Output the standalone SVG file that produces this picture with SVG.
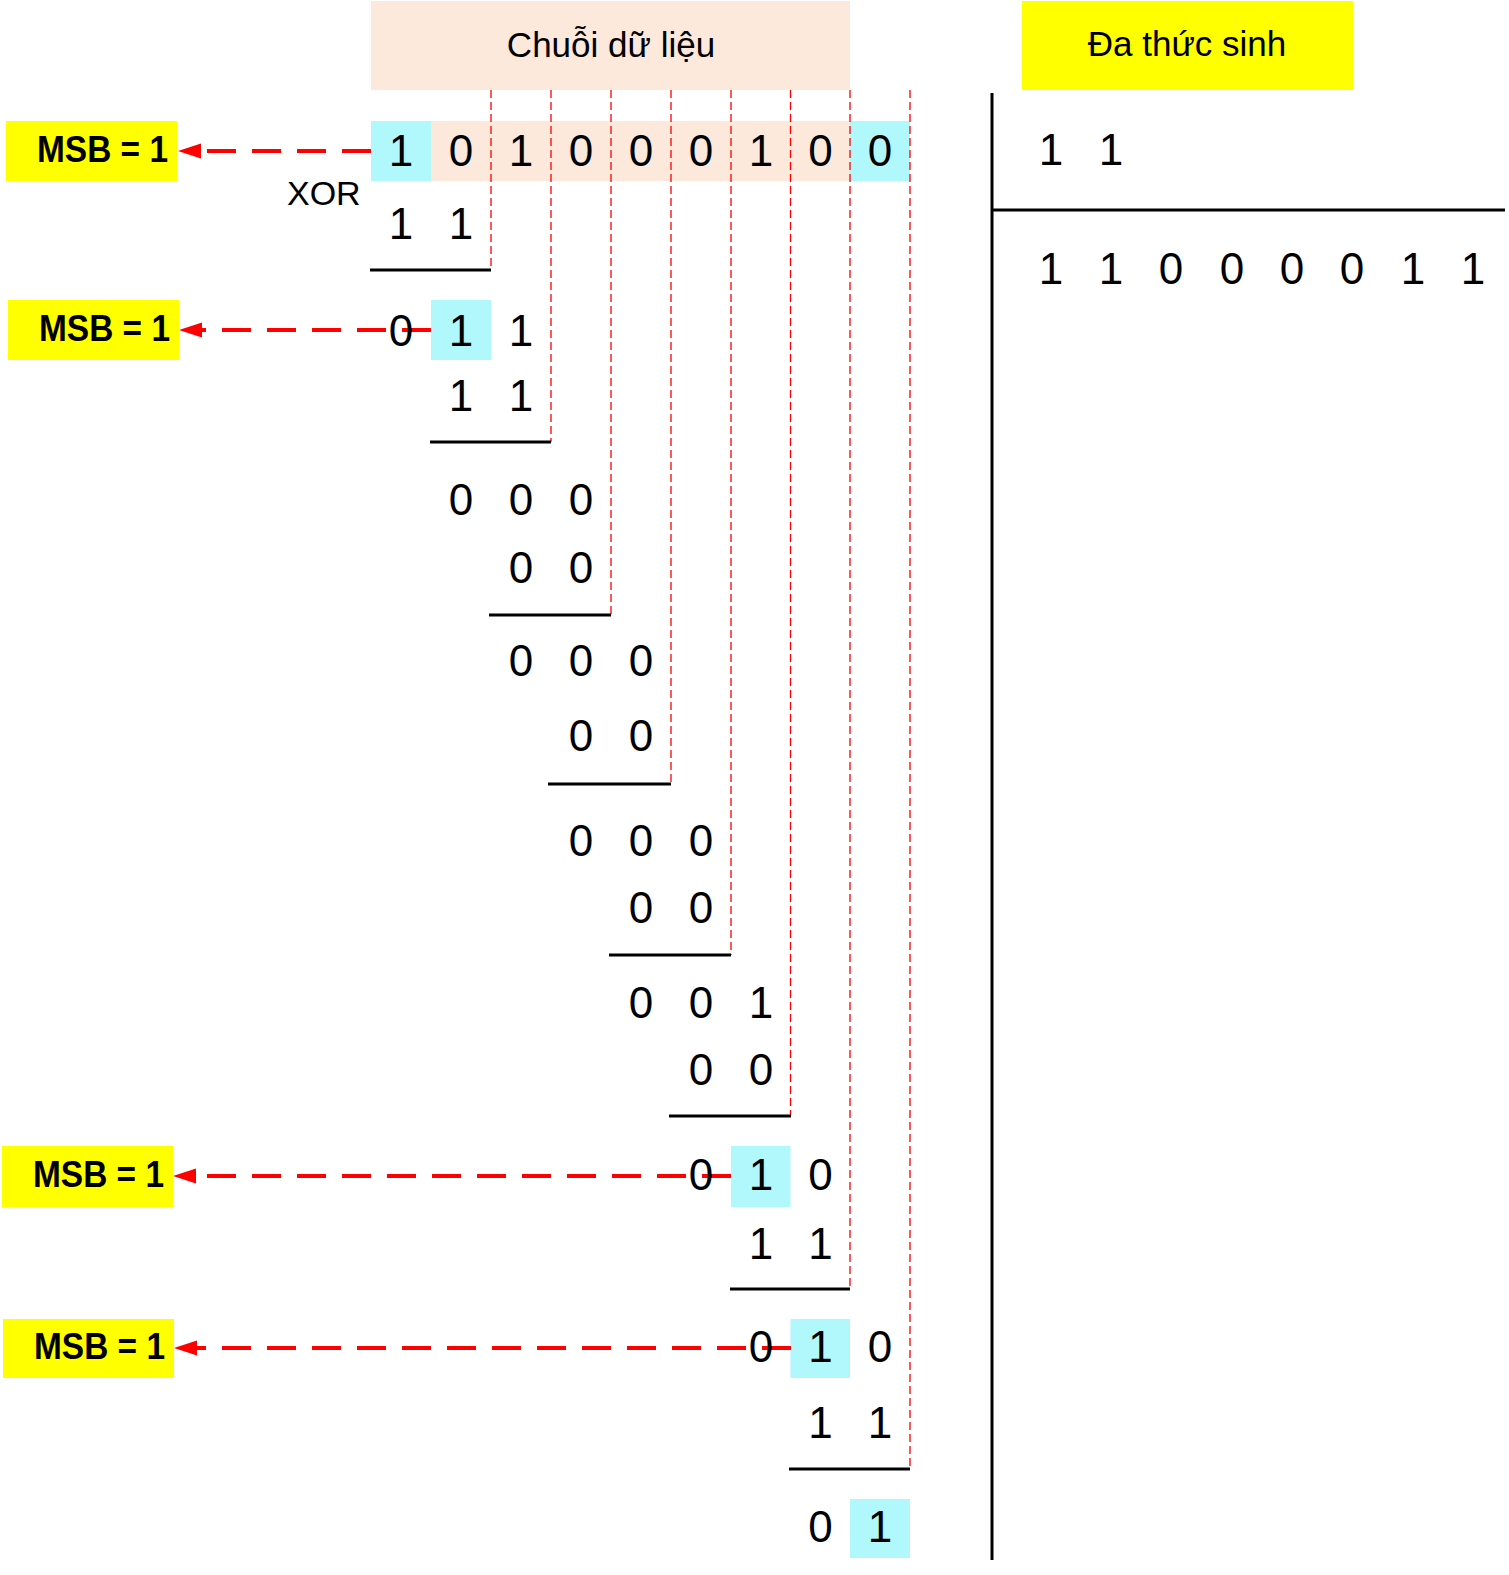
<svg xmlns="http://www.w3.org/2000/svg" width="1509" height="1575" viewBox="0 0 1509 1575">
<defs>
<style>
.bg{fill:#ffffff}
.peach{fill:#FCE9DC}
.cyan{fill:#B0F8FB}
.yellow{fill:#FFFF00}
.d{font-family:"Liberation Sans",Arial,sans-serif;font-size:44px;fill:#000;text-anchor:middle}
.title{font-family:"Liberation Sans",Arial,"Noto Sans",sans-serif;font-size:35px;fill:#000;text-anchor:middle}
.msb{font-family:"Liberation Sans",Arial,sans-serif;font-size:36px;font-weight:bold;fill:#000;text-anchor:end}
.xor{font-family:"Liberation Sans",Arial,sans-serif;font-size:34px;fill:#000}
.vd{stroke:#FF0000;stroke-width:1.3;stroke-dasharray:8 4;fill:none}
.ul{stroke:#000;stroke-width:3;fill:none}
.arr{stroke:#FF0000;stroke-width:4;stroke-dasharray:29 16;fill:none}
.axis{stroke:#000;stroke-width:3;fill:none}
</style>
<marker id="ah" markerUnits="userSpaceOnUse" markerWidth="24" markerHeight="16" refX="0" refY="7.5" orient="auto">
<path d="M0,0 L23,7.5 L0,15 Z" fill="#FF0000"/>
</marker>
</defs>
<rect class="bg" x="0" y="0" width="1509" height="1575"/>

<g id="header-data">
<rect class="peach" x="371" y="1" width="479" height="89"/>
<text class="title" x="611" y="57">Chuỗi dữ liệu</text>
</g>

<g id="header-poly">
<rect class="yellow" x="1022" y="1" width="331" height="89"/>
<text class="title" x="1187" y="56">Đa thức sinh</text>
</g>

<g id="cells">
<rect class="peach" x="431" y="121" width="419" height="60"/>
<rect class="cyan" x="371" y="121" width="60" height="60"/>
<rect class="cyan" x="850" y="121" width="60" height="60"/>
<rect class="cyan" x="431" y="300" width="60" height="60"/>
<rect class="cyan" x="731" y="1146" width="59.5" height="61"/>
<rect class="cyan" x="790.5" y="1319" width="59.5" height="59"/>
<rect class="cyan" x="850" y="1499" width="60" height="59"/>
</g>

<g id="guides">
<line class="vd" x1="491" y1="90" x2="491" y2="270"/>
<line class="vd" x1="551" y1="90" x2="551" y2="442"/>
<line class="vd" x1="611" y1="90" x2="611" y2="615"/>
<line class="vd" x1="671" y1="90" x2="671" y2="784"/>
<line class="vd" x1="731" y1="90" x2="731" y2="955"/>
<line class="vd" x1="790.5" y1="90" x2="790.5" y2="1116"/>
<line class="vd" x1="850" y1="90" x2="850" y2="1289"/>
<line class="vd" x1="910" y1="90" x2="910" y2="1469"/>
</g>

<g id="underlines">
<line class="ul" x1="370" y1="270" x2="491" y2="270"/>
<line class="ul" x1="430" y1="442" x2="551" y2="442"/>
<line class="ul" x1="489" y1="615" x2="611" y2="615"/>
<line class="ul" x1="548" y1="784" x2="671" y2="784"/>
<line class="ul" x1="609" y1="955" x2="731" y2="955"/>
<line class="ul" x1="669" y1="1116" x2="791" y2="1116"/>
<line class="ul" x1="730" y1="1289" x2="850" y2="1289"/>
<line class="ul" x1="789" y1="1469" x2="910" y2="1469"/>
</g>

<g id="msb1">
<rect class="yellow" x="6" y="121" width="171" height="60"/>
<text class="msb" x="168" y="162" textLength="131" lengthAdjust="spacingAndGlyphs">MSB = 1</text>
</g>
<g id="msb2">
<rect class="yellow" x="8" y="300" width="171" height="60"/>
<text class="msb" x="170" y="341" textLength="131" lengthAdjust="spacingAndGlyphs">MSB = 1</text>
</g>
<g id="msb3">
<rect class="yellow" x="2" y="1146" width="171" height="61"/>
<text class="msb" x="164" y="1187" textLength="131" lengthAdjust="spacingAndGlyphs">MSB = 1</text>
</g>
<g id="msb4">
<rect class="yellow" x="3" y="1319" width="171" height="59"/>
<text class="msb" x="165" y="1359" textLength="131" lengthAdjust="spacingAndGlyphs">MSB = 1</text>
</g>

<g id="connectors">
<line class="arr" x1="371" y1="151" x2="201" y2="151" marker-end="url(#ah)"/>
<line class="arr" x1="431" y1="330" x2="202" y2="330" marker-end="url(#ah)"/>
<line class="arr" x1="731" y1="1176" x2="196" y2="1176" marker-end="url(#ah)"/>
<line class="arr" x1="791" y1="1348" x2="197" y2="1348" marker-end="url(#ah)"/>
</g>

<g id="division">
<text class="xor" x="287" y="205">XOR</text>
<text class="d" y="166"><tspan x="401">1</tspan><tspan x="461">0</tspan><tspan x="521">1</tspan><tspan x="581">0</tspan><tspan x="641">0</tspan><tspan x="701">0</tspan><tspan x="761">1</tspan><tspan x="820.5">0</tspan><tspan x="880">0</tspan></text>
<text class="d" y="239"><tspan x="401">1</tspan><tspan x="461">1</tspan></text>
<text class="d" y="346"><tspan x="401">0</tspan><tspan x="461">1</tspan><tspan x="521">1</tspan></text>
<text class="d" y="411"><tspan x="461">1</tspan><tspan x="521">1</tspan></text>
<text class="d" y="515"><tspan x="461">0</tspan><tspan x="521">0</tspan><tspan x="581">0</tspan></text>
<text class="d" y="583"><tspan x="521">0</tspan><tspan x="581">0</tspan></text>
<text class="d" y="676"><tspan x="521">0</tspan><tspan x="581">0</tspan><tspan x="641">0</tspan></text>
<text class="d" y="751"><tspan x="581">0</tspan><tspan x="641">0</tspan></text>
<text class="d" y="856"><tspan x="581">0</tspan><tspan x="641">0</tspan><tspan x="701">0</tspan></text>
<text class="d" y="923"><tspan x="641">0</tspan><tspan x="701">0</tspan></text>
<text class="d" y="1018"><tspan x="641">0</tspan><tspan x="701">0</tspan><tspan x="761">1</tspan></text>
<text class="d" y="1085"><tspan x="701">0</tspan><tspan x="761">0</tspan></text>
<text class="d" y="1190"><tspan x="701">0</tspan><tspan x="761">1</tspan><tspan x="820.5">0</tspan></text>
<text class="d" y="1259"><tspan x="761">1</tspan><tspan x="820.5">1</tspan></text>
<text class="d" y="1362"><tspan x="761">0</tspan><tspan x="820.5">1</tspan><tspan x="880">0</tspan></text>
<text class="d" y="1438"><tspan x="820.5">1</tspan><tspan x="880">1</tspan></text>
<text class="d" y="1542"><tspan x="820.5">0</tspan><tspan x="880">1</tspan></text>
</g>

<g id="quotient">
<line class="axis" x1="992" y1="93" x2="992" y2="1560"/>
<line class="axis" x1="992" y1="210" x2="1505" y2="210"/>
<text class="d" y="165"><tspan x="1051">1</tspan><tspan x="1111">1</tspan></text>
<text class="d" y="284"><tspan x="1051">1</tspan><tspan x="1111">1</tspan><tspan x="1171">0</tspan><tspan x="1232">0</tspan><tspan x="1292">0</tspan><tspan x="1352">0</tspan><tspan x="1413">1</tspan><tspan x="1473">1</tspan></text>
</g>
</svg>
